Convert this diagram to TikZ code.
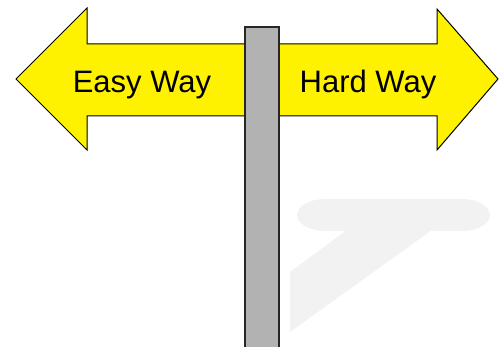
\documentclass[tikz,border=0pt]{standalone}
\usepackage{fontspec}
\setmainfont{Liberation Sans}
\usepackage{tikz}
\usetikzlibrary{positioning}

\begin{document}
\begin{tikzpicture}[
    % GLOBAL CFG
    x=1pt, y=-1pt,
    % Styles
    sign/.style={% For the yellow arrows
        fill=yellow,
        draw=black,
        line width=1pt,
        line join=miter,
        },
    post/.style={% For the pole
        fill=black!30,
        draw=black!85,
        line width=1.6pt,
        },
    shade/.style={% For the shadow on the ground
        fill=black!5,
        draw=none,
        },
    signtext/.style={% For the texts on the arrows
        font=\fontsize{31}{31}\selectfont,
        inner sep=0pt,
        anchor=base,
        },
    ]

    % fix the frame
    \useasboundingbox (0,0) rectangle (500,347);

    % Draw the shadow
    \fill [shade] (325,199) -- (462,199) arc [start angle=90, end angle=-90, x radius=28, y radius=-16]
        -- (325,231) arc [start angle=-90, end angle=-270, x radius=28, y radius=-16] -- cycle;
    \fill [shade] (347,230) -- (432,230) -- (290,332) -- (290,272) -- cycle;

    % Draw the arrows
    \draw [sign] (260,44) -- (87,44) -- (87,8) -- (16,79) -- (87,150) -- (87,116) -- (260,116);
    \draw [sign] (262,44) -- (437,44) -- (437,9) -- (498,79) -- (437,150) -- (437,116) -- (262,116);

    % Draw the pole
    \draw [post] (245,27) rectangle (279,350);

    % Texts
    \node [signtext] (easy) at (142,93) {Easy Way};
    \node [signtext] (hard) at (368,93) {Hard Way};

\end{tikzpicture}
\end{document}
